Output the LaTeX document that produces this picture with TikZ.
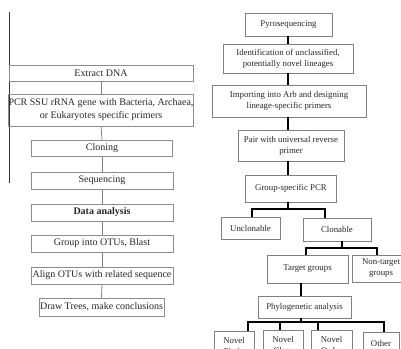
\documentclass[tikz,border=0pt]{standalone}
\usepackage{fontspec}
\setmainfont{Liberation Serif}
\begin{document}
\begin{tikzpicture}[x=1pt,y=-1pt,
  lbox/.style={draw=black!45, line width=0.8pt, inner sep=0pt, align=center,
    font=\fontsize{10}{13}\selectfont, text=black!85},
  rbox/.style={draw=black!50, line width=0.9pt, inner sep=0pt, align=center,
    font=\fontsize{8.8}{11}\selectfont, text=black!85},
  lconn/.style={draw=black!50, line width=0.8pt},
  rconn/.style={draw=black, line width=1.6pt},
  edge/.style={draw=black!80, line width=1pt}]
\useasboundingbox (0,0) rectangle (401,348);
\clip (0,0) rectangle (401,348);
% left margin line
\coordinate (m1) at (9,12);
\coordinate (m2) at (9,183);
\draw[edge] (m1) -- (m2);
% left column
\node[lbox, minimum width=184pt, minimum height=16.5pt] (extract) at (101,73.5) {Extract DNA};
\node[lbox, minimum width=184pt, minimum height=32pt] (pcr) at (101,110) {PCR SSU rRNA gene with Bacteria, Archaea,\\or Eukaryotes specific primers};
\node[lbox, minimum width=141pt, minimum height=16.5pt] (clon) at (102,148.5) {Cloning};
\node[lbox, minimum width=142pt, minimum height=17pt] (seq) at (102,180.5) {Sequencing};
\node[lbox, minimum width=142pt, minimum height=17pt, font=\fontsize{10}{13}\selectfont\bfseries] (data) at (102,212.5) {Data analysis};
\node[lbox, minimum width=142pt, minimum height=17pt] (otu) at (102,243.5) {Group into OTUs, Blast};
\node[lbox, minimum width=142pt, minimum height=17pt] (align) at (102,275.5) {Align OTUs with related sequence};
\node[lbox, minimum width=125pt, minimum height=18pt] (trees) at (101.5,307) {Draw Trees, make conclusions};
\draw[lconn] (extract.south) -- (pcr.north);
\draw[lconn] (pcr.south) -- (clon.north);
\draw[lconn] (clon.south) -- (seq.north);
\draw[lconn] (seq.south) -- (data.north);
\draw[lconn] (data.south) -- (otu.north);
\draw[lconn] (otu.south) -- (align.north);
\draw[lconn] (align.south) -- (trees.north);
% right column
\node[rbox, minimum width=87pt, minimum height=23pt] (pyro) at (288.5,24.5) {Pyrosequencing};
\node[rbox, minimum width=130pt, minimum height=29pt] (ident) at (288,58.5) {Identification of unclassified,\\potentially novel lineages};
\node[rbox, minimum width=154pt, minimum height=32pt] (import) at (289,101) {Importing into Arb and designing\\lineage-specific primers};
\node[rbox, minimum width=106pt, minimum height=31pt] (pair) at (291,145.5) {Pair with universal reverse\\primer};
\node[rbox, minimum width=91pt, minimum height=27pt] (gpcr) at (291,188.5) {Group-specific PCR};
\node[rbox, minimum width=59pt, minimum height=22pt] (unclon) at (250.5,228) {Unclonable};
\node[rbox, minimum width=68pt, minimum height=23pt] (clonable) at (337,229.5) {Clonable};
\node[rbox, minimum width=81pt, minimum height=28pt] (target) at (307.5,269) {Target groups};
\node[rbox, minimum width=58pt, minimum height=27pt] (nontarget) at (381,268.5) {Non-target\\groups};
\node[rbox, minimum width=93pt, minimum height=22pt] (phylo) at (304.5,307) {Phylogenetic analysis};
\node[rbox, minimum width=40pt, minimum height=30pt, anchor=north, inner ysep=2pt] (phyla) at (234,331) {Novel\\Phyla};
\node[rbox, minimum width=40pt, minimum height=30pt, anchor=north, inner ysep=2pt] (class) at (283,330) {Novel\\Class};
\node[rbox, minimum width=41pt, minimum height=30pt, anchor=north, inner ysep=2pt] (order) at (331.5,330) {Novel\\Order};
\node[rbox, minimum width=36pt, minimum height=23pt, anchor=north] (other) at (381,332) {Other};
% vertical trunk
\coordinate (tx) at (288,0);
\draw[rconn] (tx |- pyro.south) -- (tx |- ident.north);
\draw[rconn] (tx |- ident.south) -- (tx |- import.north);
\draw[rconn] (tx |- import.south) -- (tx |- pair.north);
\draw[rconn] (tx |- pair.south) -- (tx |- gpcr.north);
% branch 1
\coordinate (j1) at (288,209);
\coordinate (j1l) at (252,209);
\coordinate (j1r) at (325,209);
\draw[rconn] (j1 |- gpcr.south) -- (j1);
\draw[rconn] (j1l |- unclon.north) -- (j1l) -- (j1r) -- (j1r |- clonable.north);
% branch 2
\coordinate (j2) at (342,248);
\coordinate (j2l) at (306,248);
\coordinate (j2r) at (377,248);
\draw[rconn] (j2 |- clonable.south) -- (j2);
\draw[rconn] (j2l |- target.north) -- (j2l) -- (j2r) -- (j2r |- nontarget.north);
% target to phylo
\coordinate (tp) at (301,0);
\draw[rconn] (tp |- target.south) -- (tp |- phylo.north);
% branch 3
\coordinate (j3) at (301,322);
\coordinate (j3a) at (248,322);
\coordinate (j3b) at (280,322);
\coordinate (j3c) at (318,322);
\coordinate (j3d) at (384,322);
\draw[rconn] (j3 |- phylo.south) -- (j3);
\draw[rconn] (j3a |- phyla.north) -- (j3a) -- (j3d) -- (j3d |- other.north);
\draw[rconn] (j3b) -- (j3b |- class.north);
\draw[rconn] (j3c) -- (j3c |- order.north);
\end{tikzpicture}
\end{document}
